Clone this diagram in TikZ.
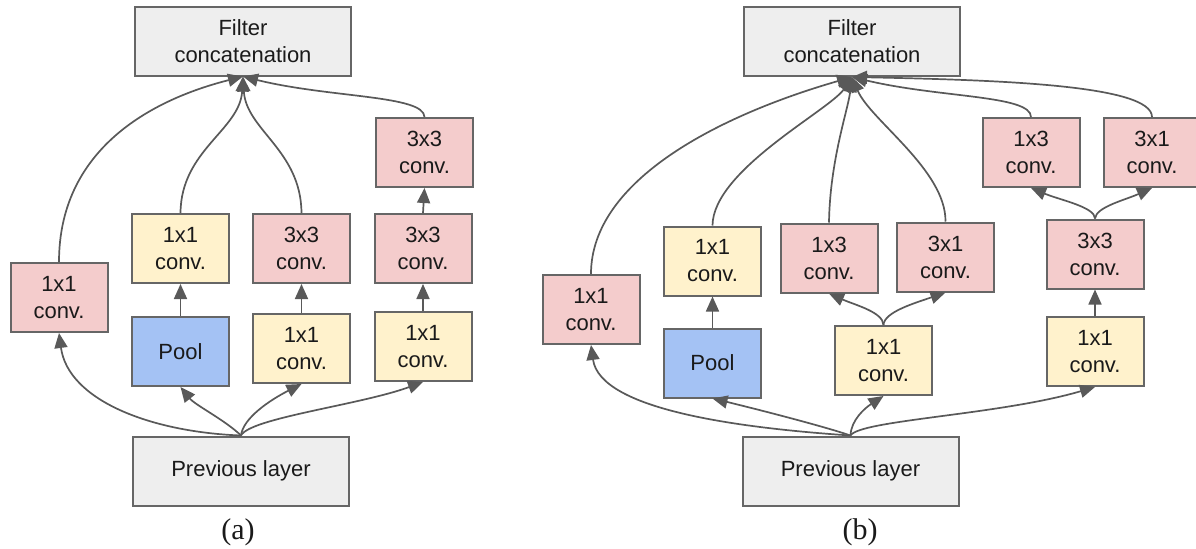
\documentclass[tikz,border=0pt]{standalone}
\usepackage{fontspec}
\setmainfont{Liberation Sans}
\newfontfamily\capfont{Liberation Serif}
\usetikzlibrary{arrows.meta}
\definecolor{boxline}{HTML}{666666}
\definecolor{wire}{HTML}{595959}
\definecolor{pinkfill}{HTML}{F4CCCC}
\definecolor{yellowfill}{HTML}{FFF2CC}
\definecolor{bluefill}{HTML}{A4C2F4}
\definecolor{greyfill}{HTML}{EEEEEE}
\definecolor{inktext}{HTML}{1A1A1A}
\tikzset{
  unitbox/.style={draw=boxline, line width=1pt, align=center, text=inktext,
    font=\fontsize{11}{13.5}\selectfont, inner sep=0pt,
    minimum width=48.5pt, minimum height=34.5pt},
  wide/.style={unitbox, minimum width=108pt, minimum height=34.5pt},
  pinkbox/.style={unitbox, fill=pinkfill},
  yellowbox/.style={unitbox, fill=yellowfill},
  poolbox/.style={unitbox, fill=bluefill},
  greybox/.style={wide, fill=greyfill},
  flow/.style={draw=wire, line width=0.85pt,
    -{Triangle[length=7.5pt,width=6.5pt]}},
  caption/.style={font=\capfont\fontsize{15}{17}\selectfont, text=inktext, inner sep=0pt}
}
\begin{document}
\begin{tikzpicture}[x=0.5pt, y=-0.5pt]
\useasboundingbox (0,0) rectangle (1196,548);
\clip (0,0) rectangle (1196,548);
\fill[white] (0,0) rectangle (1196,548);

% ---------------- module (a) ----------------
\node[greybox] (fA) at (243,41) {Filter\\concatenation};
\node[greybox] (prevA) at (241,471) {Previous layer};
\node[pinkbox] (c1A) at (59,297.5) {1x1\\conv.};
\node[yellowbox] (y1A) at (180.5,248.5) {1x1\\conv.};
\node[poolbox] (poolA) at (180.5,351.5) {Pool};
\node[pinkbox] (m3A) at (301.5,248.5) {3x3\\conv.};
\node[yellowbox] (m1A) at (301.5,348.5) {1x1\\conv.};
\node[pinkbox] (t3A) at (424.5,152.5) {3x3\\conv.};
\node[pinkbox] (r3A) at (423,248.5) {3x3\\conv.};
\node[yellowbox] (r1A) at (423,346.5) {1x1\\conv.};
\node[caption] (capA) at (238,532) {(a)};

% inputs from the previous layer
\draw[flow] (prevA.north) .. controls (150,432) and (68,400) .. (c1A.south);
\draw[flow] (prevA.north) .. controls (225,420) and (195,405) .. (poolA.south);
\draw[flow] (prevA.north) .. controls (243,418) and (270,400) .. (m1A.south);
\draw[flow] (prevA.north) .. controls (250,418) and (360,405) .. (r1A.south);
% straight links inside the branches
\draw[flow] (poolA.north) -- (y1A.south);
\draw[flow] (m1A.north) -- (m3A.south);
\draw[flow] (r1A.north) -- (r3A.south);
\draw[flow] (r3A.north) -- (t3A.south);
% outputs to the concatenation
\draw[flow] (c1A.north) .. controls (59,150) and (150,100) .. (fA.south);
\draw[flow] (y1A.north) .. controls (181,150) and (240,130) .. (fA.south);
\draw[flow] (m3A.north) .. controls (301,150) and (246,130) .. (fA.south);
\draw[flow] (t3A.north) .. controls (424,95) and (330,98) .. (fA.south);

% ---------------- module (b) ----------------
\node[greybox] (fB) at (852,41.5) {Filter\\concatenation};
\node[greybox] (prevB) at (850.5,471) {Previous layer};
\node[pinkbox] (c1B) at (591,309.5) {1x1\\conv.};
\node[yellowbox] (y1B) at (712.5,261) {1x1\\conv.};
\node[poolbox] (poolB) at (712.5,363) {Pool};
\node[pinkbox] (m13B) at (829,258) {1x3\\conv.};
\node[pinkbox] (m31B) at (945.5,257) {3x1\\conv.};
\node[yellowbox] (m1B) at (883.5,360.5) {1x1\\conv.};
\node[pinkbox] (r33B) at (1095,254) {3x3\\conv.};
\node[yellowbox] (r1B) at (1095,351.5) {1x1\\conv.};
\node[pinkbox] (t13B) at (1031,152.5) {1x3\\conv.};
\node[pinkbox] (t31B) at (1152,152.5) {3x1\\conv.};
\node[caption] (capB) at (860,532) {(b)};

% inputs from the previous layer
\draw[flow] (prevB.north) .. controls (740,428) and (600,410) .. (c1B.south);
\draw[flow] (prevB.north) .. controls (820,425) and (740,405) .. (poolB.south);
\draw[flow] (prevB.north) .. controls (851,420) and (865,408) .. (m1B.south);
\draw[flow] (prevB.north) .. controls (860,420) and (1000,415) .. (r1B.south);
% splits and straight links
\draw[flow] (poolB.north) -- (y1B.south);
\draw[flow] (r1B.north) -- (r33B.south);
\draw[flow] (m1B.north) .. controls (883,312) and (855,305) .. (m13B.south);
\draw[flow] (m1B.north) .. controls (884,312) and (915,303) .. (m31B.south);
\draw[flow] (r33B.north) .. controls (1095,207) and (1060,200) .. (t13B.south);
\draw[flow] (r33B.north) .. controls (1096,207) and (1125,200) .. (t31B.south);
% outputs to the concatenation
\draw[flow] (c1B.north) .. controls (591,180) and (720,115) .. (fB.south);
\draw[flow] (y1B.north) .. controls (713,170) and (830,110) .. (fB.south);
\draw[flow] (m13B.north) .. controls (830,160) and (848,110) .. (fB.south);
\draw[flow] (m31B.north) .. controls (946,170) and (870,120) .. (fB.south);
\draw[flow] (t13B.north) .. controls (1031,95) and (940,98) .. (fB.south);
\draw[flow] (t31B.north) .. controls (1152,85) and (1000,80) .. (fB.south);
\end{tikzpicture}
\end{document}
